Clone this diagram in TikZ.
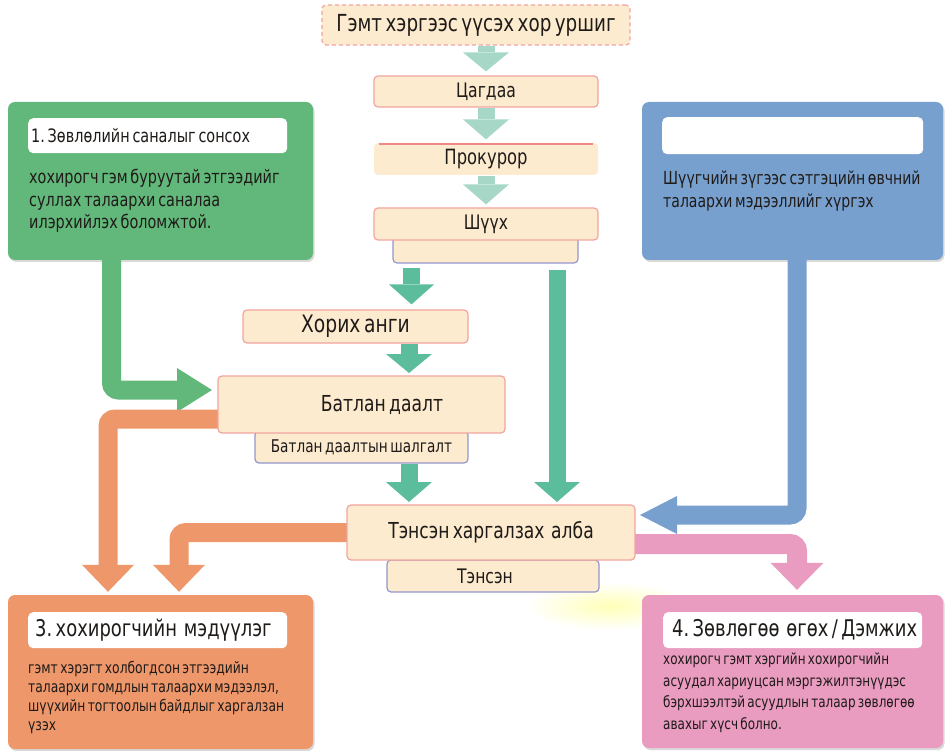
\documentclass[tikz,border=0pt]{standalone}
\usepackage{fontspec}
\setmainfont{DejaVu Sans}[FakeStretch=0.78, WordSpace=0.6]
\usetikzlibrary{arrows.meta,calc,shadows}
\definecolor{cPeach}{HTML}{FDEBCF}
\definecolor{cPinkLine}{HTML}{F2A3A0}
\definecolor{cSubLine}{HTML}{9296CC}
\definecolor{cLTeal}{HTML}{A7D8C7}
\definecolor{cTeal}{HTML}{5CBD9C}
\definecolor{cGreen}{HTML}{62B87A}
\definecolor{cBlue}{HTML}{78A0CF}
\definecolor{cOrange}{HTML}{EE976B}
\definecolor{cPink}{HTML}{E99BC0}
\definecolor{cTxt}{HTML}{1F1B19}
\definecolor{cRedLine}{HTML}{EE8A86}
\newcommand\fsz[2]{\fontsize{#1}{#2}\selectfont}
\newcommand\natsp{\spaceskip=0pt\xspaceskip=0pt\relax}
\frenchspacing
\tikzset{
 stage/.style={draw=cPinkLine, line width=1.2pt, fill=cPeach, rounded corners=4pt, inner sep=0pt, text=cTxt},
 substage/.style={draw=cSubLine, line width=1.2pt, fill=cPeach, rounded corners=4pt, inner sep=0pt, text=cTxt},
 panel/.style={rounded corners=7pt, inner sep=0pt, drop shadow={shadow xshift=1.5pt, shadow yshift=-2pt, opacity=0.3}},
 headbox/.style={fill=white, rounded corners=5pt, inner xsep=3pt, inner ysep=0pt, align=left, text=cTxt, anchor=north west},
 bodytext/.style={inner sep=0pt, align=left, text=cTxt, anchor=north west},
 flow/.style n args={3}{line width=#1pt, rounded corners=7pt, -{Triangle[width=#2pt,length=#3pt,line width=0pt]}},
}
\begin{document}
\begin{tikzpicture}[x=1pt,y=-1pt]
\useasboundingbox (0,0) rectangle (945,751);
% glow
\shade[inner color=yellow!28, outer color=white] (610,606) ellipse (85 and 24);

% named helper coordinates
\coordinate (t1) at (411.5,268);
\coordinate (t2) at (409,343);
\coordinate (t3) at (557,270);
\coordinate (g0) at (111.5,250);

% panels
\node[panel, fill=cGreen, minimum width=305pt, minimum height=158pt] (gpanel) at (160.5,181) {};
\node[panel, fill=cBlue, minimum width=301pt, minimum height=158pt] (bpanel) at (792.5,181) {};
\node[panel, fill=cOrange, minimum width=305pt, minimum height=154pt] (opanel) at (160.5,672) {};
\node[panel, fill=cPink, minimum width=301pt, minimum height=153pt] (ppanel) at (792.5,671.5) {};

% stages
\node[stage, dash pattern=on 4pt off 3pt, minimum width=308pt, minimum height=40pt, font=\fsz{23.5}{28}] (top) at (476,25) {Гэмт хэргээс үүсэх хор уршиг};
\node[stage, minimum width=224pt, minimum height=31pt, font=\fsz{20}{24}] (cagdaa) at (486,91.5) {Цагдаа};
\node[stage, draw=none, minimum width=224pt, minimum height=32pt, font=\fsz{21}{24}] (prok) at (486,159) {Прокурор};
\draw[cRedLine, line width=2pt] ([xshift=6pt,yshift=-2pt]prok.north west) -- ([xshift=-6pt,yshift=-2pt]prok.north east);
\node[substage, minimum width=185pt, minimum height=31pt] (shsub) at (485.5,247.5) {};
\node[stage, minimum width=224pt, minimum height=32pt, font=\fsz{20}{24}] (shuukh) at (486,224) {Шүүх};
\node[stage, minimum width=225pt, minimum height=33pt, font=\fsz{24}{27}] (khorikh) at (355.5,326.5) {Хорих анги};
\node[substage, minimum width=213pt, minimum height=32pt, font=\fsz{17.5}{22}] (batlansub) at (361.5,447) {Батлан даалтын шалгалт};
\node[substage, minimum width=212pt, minimum height=32pt, font=\fsz{20}{24}] (tensensub) at (493,576) {\hspace*{-16pt}Тэнсэн};

% arrows
\draw[flow={17}{46}{19}, draw=cLTeal] (top.south -| cagdaa.north) -- ($(cagdaa.north)+(0,-4)$);
\draw[flow={17}{46}{20}, draw=cLTeal] (cagdaa.south) -- ($(prok.north)+(0,-3)$);
\draw[flow={17}{46}{20}, draw=cLTeal] (prok.south) -- ($(shuukh.north)+(0,-3)$);
\draw[flow={17}{45}{20}, draw=cTeal] (t1) -- ($(khorikh.north -| t1)+(0,-5)$);
\draw[flow={17}{46}{19}, draw=cTeal] (khorikh.south -| t2) -- ($(t2)+(0,30)$);
\draw[flow={17}{46}{20}, draw=cTeal] (batlansub.south -| t2) -- ($(t2)+(0,159)$);
\draw[flow={17}{46}{20}, draw=cTeal] (t3) -- ($(t2 -| t3)+(0,159)$);
\draw[flow={19}{44}{35}, draw=cGreen] (g0) |- ($(t2 -| 212,0)+(0,47)$);
\draw[flow={19}{52}{27}, draw=cOrange] ($(t2 -| 225,0)+(0,76)$) -| ($(opanel.north)+(-52.5,-3)$);
\draw[flow={19}{52}{27}, draw=cOrange] ($(t2 -| 352,0)+(0,189.5)$) -| ($(opanel.north)+(18.5,-3)$);
\draw[flow={19}{38}{37}, draw=cBlue] ($(bpanel.south)+(4.5,-10)$) |- ($(t2 -| 640,0)+(0,172)$);
\draw[flow={20}{53}{27}, draw=cPink] ($(t2 -| 630,0)+(0,201)$) -| ($(ppanel.north)+(4.5,-5)$);

% main boxes on top of arrows
\node[stage, minimum width=287pt, minimum height=57pt, font=\fsz{22}{27}] (batlan) at (361.5,404.5) {\hspace*{41pt}Батлан даалт};
\node[stage, minimum width=288pt, minimum height=55pt, font=\fsz{22}{27}] (tensen) at (491,532.5) {Тэнсэн харгалзах\ \ алба};

% panel contents
\node[headbox, text width=253pt, minimum height=35pt, font=\fsz{18.5}{21}] (ghead) at (28,118) {\natsp 1. Зөвлөлийн саналыг сонсох};
\node[bodytext, font=\fsz{18.5}{22.5}] (gbody) at (29,169) {хохирогч гэм буруутай этгээдийг\\суллах талаархи саналаа\\илэрхийлэх боломжтой.};
\node[headbox, text width=255pt, minimum height=37pt] (bhead) at (662,117) {};
\node[bodytext, font=\fsz{18}{23}] (bbody) at (663,171) {Шүүгчийн зүгээс сэтгэцийн өвчний\\талаархи мэдээллийг хүргэх};
\node[headbox, text width=253pt, minimum height=36pt, font=\fsz{23}{27}] (ohead) at (28,612) {\natsp\mbox{\hspace*{4pt}3. хохирогчийн\ \ мэдүүлэг}};
\node[bodytext, font=\fsz{15.8}{19}] (obody) at (28,661) {гэмт хэрэгт холбогдсон этгээдийн\\талаархи гомдлын талаархи мэдээлэл,\\шүүхийн тогтоолын байдлыг харгалзан\\үзэх};
\node[headbox, text width=253pt, minimum height=36pt, font=\fsz{23}{27}] (phead) at (663,612) {\natsp\mbox{\hspace*{6pt}4. Зөвлөгөө\ \ өгөх / Дэмжих}};
\node[bodytext, font=\fsz{15.4}{21.5}] (pbody) at (663,653) {хохирогч гэмт хэргийн хохирогчийн\\асуудал хариуцсан мэргэжилтэнүүдэс\\бэрхшээлтэй асуудлын талаар зөвлөгөө\\авахыг хүсч болно.};
\end{tikzpicture}
\end{document}
